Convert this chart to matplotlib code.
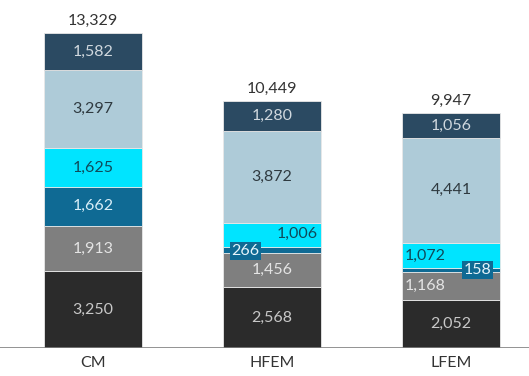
import matplotlib
matplotlib.use('Agg')
import matplotlib.pyplot as plt

plt.rcParams['font.family'] = ['Lato', 'DejaVu Sans']

# categorias e séries empilhadas (de baixo para cima)
categorias = ['CM', 'HFEM', 'LFEM']
serie1 = [3250, 2568, 2052]
serie2 = [1913, 1456, 1168]
serie3 = [1662, 266, 158]
serie4 = [1625, 1006, 1072]
serie5 = [3297, 3872, 4441]
serie6 = [1582, 1280, 1056]
totais = [13329, 10449, 9947]

series = [serie1, serie2, serie3, serie4, serie5, serie6]
cores = ['#2b2b2b', '#7f7f7f', '#0f6a94', '#00e4ff', '#aecbd8', '#2b4a62']
cores_texto = ['#c8c8c8', '#e4e4e4', '#d8eef8', '#0f4a5a', '#2f3a40', '#d0d8de']
fs = 11.5

fig = plt.figure(figsize=(5.29, 3.76), dpi=100)
ax = fig.add_axes([0, 28 / 376, 1, 348 / 376])

xs = [0, 1, 2]
largura = 0.553
base = [0, 0, 0]
for serie, cor, ct in zip(series, cores, cores_texto):
    ax.bar(xs, serie, largura, bottom=base, color=cor, edgecolor='#e8e8e8', linewidth=0.6)
    for i, v in enumerate(serie):
        meio = base[i] + v / 2
        rotulo = f'{v:,}'
        if v < 300:
            # segmento fino: rótulo em caixa azul
            if i == 1:
                xt, ha, yt = xs[i] - largura / 2 + 0.05, 'left', meio - 60
            else:
                xt, ha, yt = xs[i] + largura / 2 - 0.05, 'right', meio
            ax.text(xt, yt, rotulo, ha=ha, va='center', fontsize=fs, color='#e6f4fa',
                    bbox=dict(boxstyle='square,pad=0.12', facecolor=cor, edgecolor='none'))
        elif serie is serie4 and i == 1:
            ax.text(xs[i] + largura / 2 - 0.02, meio + 40, rotulo, ha='right', va='center',
                    fontsize=fs, color=ct)
        elif i == 2 and (serie is serie4 or serie is serie2):
            ax.text(xs[i] - largura / 2 + 0.02, meio, rotulo, ha='left', va='center',
                    fontsize=fs, color=ct)
        else:
            ax.text(xs[i], meio, rotulo, ha='center', va='center', fontsize=fs, color=ct)
    base = [b + v for b, v in zip(base, serie)]

for i, t in enumerate(totais):
    ax.text(xs[i], base[i] + 200, f'{t:,}', ha='center', va='bottom', fontsize=fs, color='#333333')

ax.axhline(0, color='#808080', linewidth=1.2)
ax.set_xlim(-93 / 179, 436 / 179)
ax.set_ylim(0, 348 / 315 * 13329)
ax.set_xticks(xs)
ax.set_xticklabels(categorias, fontsize=fs, color='#333333')
ax.tick_params(axis='x', length=0, pad=6)
ax.set_yticks([])
for s in ax.spines.values():
    s.set_visible(False)

fig.savefig('out.png', dpi=100)
